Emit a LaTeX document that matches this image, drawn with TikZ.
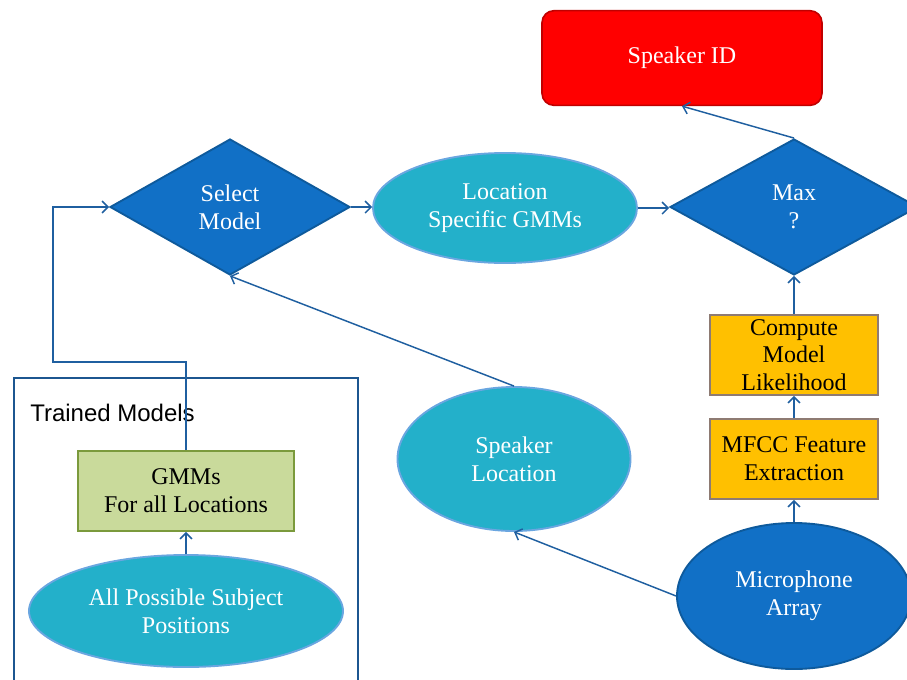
\documentclass[tikz,border=0pt]{standalone}
\usepackage{fontspec}
\setmainfont{Liberation Serif}
\newfontfamily\labelsans{Liberation Sans}
\usetikzlibrary{shapes.geometric,arrows.meta}

\definecolor{decblue}{HTML}{1170C6}
\definecolor{decedge}{HTML}{0E5A9C}
\definecolor{aqua}{HTML}{23B0CA}
\definecolor{aquaedge}{HTML}{6AA6E0}
\definecolor{linkblue}{HTML}{1F5FA0}
\definecolor{leaf}{HTML}{C9DA9B}
\definecolor{leafedge}{HTML}{7B9A3C}
\definecolor{amber}{HTML}{FFC000}
\definecolor{amberedge}{HTML}{8E7B73}
\definecolor{alert}{HTML}{FF0000}
\definecolor{alertedge}{HTML}{C00000}

\tikzset{
  txt/.style={font=\fontsize{18pt}{21pt}\selectfont, align=center, inner sep=0pt},
  decision/.style={txt, diamond, fill=decblue, draw=decedge, line width=1.4pt,
    text=white, minimum width=180pt, minimum height=102pt},
  aquaell/.style={txt, ellipse, fill=aqua, draw=aquaedge, line width=1.4pt, text=white},
  blueell/.style={txt, ellipse, fill=decblue, draw=decedge, line width=1.4pt, text=white},
  amberbox/.style={txt, rectangle, fill=amber, draw=amberedge, line width=1.4pt,
    minimum width=126pt, minimum height=60pt},
  leafbox/.style={txt, rectangle, fill=leaf, draw=leafedge, line width=1.4pt,
    minimum width=162pt, minimum height=60pt},
  resultbox/.style={txt, rectangle, rounded corners=9pt, fill=alert, draw=alertedge,
    line width=1.2pt, text=white, minimum width=210pt, minimum height=71pt},
  conn/.style={draw=linkblue, line width=1.1pt,
    -{Straight Barb[length=4.5pt,width=9pt,line width=1.1pt]}},
  framebox/.style={draw=linkblue!90!black, line width=1.4pt}
}

\begin{document}
\begin{tikzpicture}[x=0.75pt,y=-0.75pt]
\useasboundingbox (0,0) rectangle (907,679);
\clip (0,0) rectangle (907,679);

% trained-model panel
\draw[framebox] (14,378) rectangle (358,700);
\node[font=\labelsans\fontsize{18pt}{21pt}\selectfont, anchor=base west, inner sep=0pt]
  (tmlabel) at (30,421) {Trained Models};

% main flow
\node[resultbox] (id) at (682,58) {Speaker ID};
\node[decision] (sel) at (230,207) {Select\\Model};
\node[aquaell, minimum width=198pt, minimum height=82.5pt] (loc) at (505,208)
  {Location\\Specific GMMs};
\node[decision, minimum width=186pt] (max) at (794,207) {Max\\?};
\node[amberbox, font=\fontsize{18pt}{20.5pt}\selectfont] (lik) at (794,355)
  {Compute\\Model\\Likelihood};
\node[amberbox] (mfcc) at (794,459) {MFCC Feature\\Extraction};
\node[blueell, minimum width=175.5pt, minimum height=109.5pt] (mic) at (794,596)
  {Microphone\\Array};
\node[aquaell, minimum width=174.75pt, minimum height=108pt] (spk) at (514,459)
  {Speaker\\Location};
\node[leafbox] (gmm) at (186,491) {GMMs\\For all Locations};
\node[aquaell, minimum width=235.5pt, minimum height=84pt] (all) at (186,611)
  {All Possible Subject\\Positions};

% connectors
\coordinate (up) at (186,362);
\coordinate (over) at (53,362);
\draw[conn] (gmm.north) -- (up) -- (over) |- (sel.west);
\draw[conn] (sel.east) -- (sel.east -| loc.west);
\draw[conn] (loc.east) -- (loc.east -| max.west);
\draw[conn] (max.north) -- (id.south);
\draw[conn] (lik.north) -- (max.south);
\draw[conn] (mfcc.north) -- (lik.south);
\draw[conn] (mic.north) -- (mfcc.south);
\draw[conn] (mic.west) -- (spk.south);
\draw[conn] (spk.north) -- (sel.south);
\draw[conn] (all.north) -- (gmm.south);
\end{tikzpicture}
\end{document}
